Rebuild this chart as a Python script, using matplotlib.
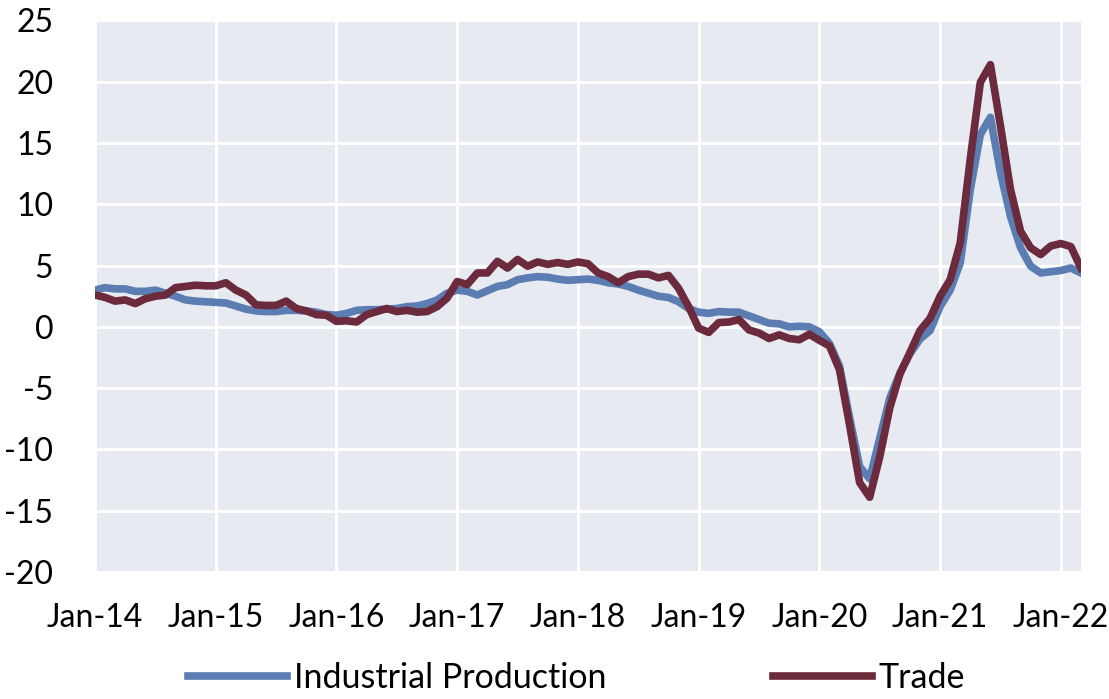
import matplotlib.pyplot as plt
import numpy as np

# monthly y/y growth, Jan-2014 .. Mar-2022
industrial_production = [
    3.0, 3.2, 3.1, 3.1, 2.9, 2.9, 3.0, 2.75, 2.5, 2.2, 2.1, 2.05,
    2.0, 1.95, 1.7, 1.45, 1.3, 1.25, 1.25, 1.35, 1.35, 1.3, 1.2, 1.0,
    0.95, 1.1, 1.35, 1.4, 1.4, 1.45, 1.5, 1.65, 1.7, 1.9, 2.2, 2.75,
    3.0, 2.9, 2.6, 2.95, 3.3, 3.45, 3.85, 4.0, 4.1, 4.05, 3.9, 3.8,
    3.85, 3.9, 3.8, 3.6, 3.5, 3.3, 3.0, 2.75, 2.5, 2.4, 2.05, 1.5,
    1.2, 1.1, 1.25, 1.2, 1.2, 0.9, 0.6, 0.3, 0.25, 0.0, 0.05, 0.0,
    -0.4, -1.35, -3.2, -7.4, -11.4, -12.4, -9.1, -5.8, -3.8, -2.2, -1.0, -0.3,
    1.65, 3.0, 5.2, 11.2, 15.7, 17.1, 12.6, 9.0, 6.45, 4.95, 4.4, 4.5,
    4.6, 4.8, 4.4,
]
trade = [
    2.6, 2.4, 2.1, 2.2, 1.9, 2.3, 2.5, 2.6, 3.2, 3.3, 3.4, 3.35,
    3.35, 3.6, 3.0, 2.6, 1.8, 1.75, 1.75, 2.1, 1.5, 1.3, 1.0, 0.95,
    0.45, 0.5, 0.4, 1.0, 1.25, 1.5, 1.25, 1.35, 1.2, 1.25, 1.65, 2.35,
    3.7, 3.45, 4.4, 4.4, 5.35, 4.8, 5.5, 4.95, 5.3, 5.1, 5.25, 5.1,
    5.3, 5.15, 4.4, 4.1, 3.6, 4.1, 4.3, 4.3, 4.0, 4.2, 3.15, 1.65,
    -0.1, -0.45, 0.35, 0.4, 0.6, -0.25, -0.5, -0.95, -0.65, -0.95, -1.05, -0.6,
    -1.1, -1.55, -3.5, -8.0, -12.7, -13.9, -10.6, -6.6, -3.85, -2.1, -0.3, 0.7,
    2.5, 3.85, 6.85, 13.7, 19.95, 21.4, 16.4, 11.2, 7.8, 6.45, 5.9, 6.6,
    6.8, 6.55, 4.8,
]
year_labels = ["Jan-14", "Jan-15", "Jan-16", "Jan-17", "Jan-18",
               "Jan-19", "Jan-20", "Jan-21", "Jan-22"]
y_ticks = [-20, -15, -10, -5, 0, 5, 10, 15, 20, 25]

plt.rcParams['font.family'] = ['Lato', 'DejaVu Sans']

x = np.arange(len(trade))

fig = plt.figure(figsize=(11.09, 6.99), dpi=100)
ax = fig.add_axes([0.0857, 0.1817, 0.889, 0.789])
ax.set_facecolor('#E8EAF1')

ax.plot(x, industrial_production, color='#5B7DB1', lw=5.5, solid_joinstyle='round',
        label='Industrial Production')
ax.plot(x, trade, color='#6C2A3D', lw=5.5, solid_joinstyle='round', label='Trade')

ax.set_xlim(0, len(trade) - 1)
ax.set_ylim(-20, 25)
ax.set_xticks(np.arange(len(year_labels)) * 12)
ax.set_xticklabels(year_labels)
ax.set_yticks(y_ticks)
ax.set_yticklabels([str(v) for v in y_ticks])
ax.grid(True, color='white', lw=2.2)
ax.set_axisbelow(True)
for s in ax.spines.values():
    s.set_visible(False)
ax.tick_params(axis='both', length=0, labelsize=23, colors='black')
ax.tick_params(axis='x', pad=22)
ax.tick_params(axis='y', pad=30)

fig.legend(loc='center', bbox_to_anchor=(0.52, 0.03), ncol=2, frameon=False,
           fontsize=24.5, handlelength=2.9, handletextpad=0.2, columnspacing=4.9)

fig.savefig('out.png', dpi=100)
